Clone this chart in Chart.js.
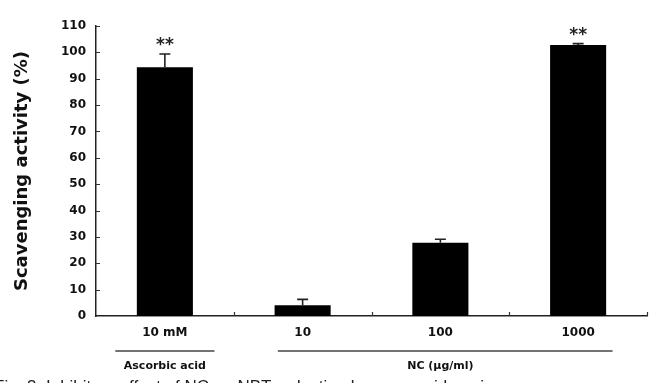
<!DOCTYPE html>
<html>
<head>
<meta charset="utf-8">
<script src="https://cdn.jsdelivr.net/npm/chart.js@4.4.1/dist/chart.umd.min.js"></script>
<style>
  html, body { margin: 0; padding: 0; background: #fff; }
  #wrap { width: 661px; height: 383px; }
</style>
</head>
<body>
<div id="wrap"><canvas id="chart" width="661" height="383"></canvas></div>
<script>
// data
const categories = ['10 mM', '10', '100', '1000'];
const scavenging = [94.4, 4.1, 27.8, 102.8];
const errUpper = [5.0, 2.2, 1.3, 0.5];
const stars = ['**', '', '', '**'];
const yMin = 0, yMax = 110, yStep = 10;

// groups under the x axis (category index ranges)
const groupNames = ['Ascorbic acid', 'NC (μg/ml)'];
const groupFirst = [0, 1];
const groupLast = [0, 3];

const ink = '#111';
const boldFont = '"DejaVu Sans", Verdana, sans-serif';

// error bars, stars, inward ticks, group lines and the cut caption
const decor = {
    id: 'decor',
    afterDraw(chart) {
        const ctx = chart.ctx;
        const x = chart.scales.x;
        const y = chart.scales.y;
        const area = chart.chartArea;
        ctx.save();

        // inward ticks
        ctx.strokeStyle = '#333';
        ctx.lineWidth = 1.2;
        ctx.beginPath();
        for (let v = yMin + yStep; v <= yMax; v += yStep) {
            const py = Math.round(y.getPixelForValue(v)) + 0.5;
            ctx.moveTo(area.left, py);
            ctx.lineTo(area.left + 4, py);
        }
        for (let i = 0; i < categories.length; i++) {
            const px = Math.round(x.getPixelForValue(i + 0.5)) + 0.5;
            ctx.moveTo(px, area.bottom);
            ctx.lineTo(px, area.bottom - 4);
        }
        ctx.stroke();

        // upper error whiskers
        ctx.strokeStyle = '#222';
        ctx.lineWidth = 1.6;
        scavenging.forEach((v, i) => {
            const cx = x.getPixelForValue(i);
            const top = y.getPixelForValue(v + errUpper[i]);
            const base = y.getPixelForValue(v);
            ctx.beginPath();
            ctx.moveTo(cx, base);
            ctx.lineTo(cx, top);
            ctx.moveTo(cx - 5.5, top);
            ctx.lineTo(cx + 5.5, top);
            ctx.stroke();
        });

        // significance stars
        ctx.fillStyle = '#222';
        ctx.font = 'bold 17px ' + boldFont;
        ctx.textAlign = 'center';
        ctx.textBaseline = 'alphabetic';
        stars.forEach((s, i) => {
            if (!s) return;
            const top = y.getPixelForValue(scavenging[i] + errUpper[i]);
            ctx.fillText(s, x.getPixelForValue(i), top - 4);
        });

        // group lines and names
        const overhang = [[0.36, 0.36], [0.18, 0.25]];
        const lineY = 351;
        ctx.strokeStyle = '#444';
        ctx.lineWidth = 1.6;
        ctx.fillStyle = ink;
        ctx.font = 'bold 11px ' + boldFont;
        ctx.textBaseline = 'middle';
        groupNames.forEach((name, g) => {
            const x0 = x.getPixelForValue(groupFirst[g] - overhang[g][0]);
            const x1 = x.getPixelForValue(groupLast[g] + overhang[g][1]);
            ctx.beginPath();
            ctx.moveTo(x0, lineY);
            ctx.lineTo(x1, lineY);
            ctx.stroke();
            const mid = x.getPixelForValue((groupFirst[g] + groupLast[g]) / 2);
            ctx.fillText(name, mid, 366);
        });

        // figure caption, cut by the bottom edge as in the scan
        ctx.font = '17px "Liberation Sans", Arial, sans-serif';
        ctx.textAlign = 'left';
        ctx.textBaseline = 'alphabetic';
        ctx.fillStyle = '#222';
        ctx.fillText('Fig. 3. Inhibitory effect of NC on NBT reduction by superoxide anion.', -6, 392);

        ctx.restore();
    }
};

new Chart(document.getElementById('chart'), {
    type: 'bar',
    data: {
        labels: categories,
        datasets: [{
            label: 'Scavenging activity (%)',
            data: scavenging,
            backgroundColor: '#000',
            borderWidth: 0,
            categoryPercentage: 1.0,
            barPercentage: 0.407
        }]
    },
    options: {
        responsive: false,
        animation: false,
        layout: {
            padding: { left: 0, right: 14, top: 26, bottom: 0 }
        },
        plugins: {
            legend: { display: false },
            tooltip: { enabled: false }
        },
        scales: {
            x: {
                grid: { display: false, drawTicks: false },
                border: { display: true, color: '#222', width: 1.5 },
                ticks: {
                    color: ink,
                    padding: 10,
                    font: { family: boldFont, size: 12, weight: 'bold' }
                },
                afterFit(scale) { scale.height = 67; }
            },
            y: {
                min: yMin,
                max: yMax,
                grid: { display: false, drawTicks: false },
                border: { display: true, color: '#222', width: 1.5 },
                ticks: {
                    stepSize: yStep,
                    color: ink,
                    padding: 10,
                    font: { family: boldFont, size: 12, weight: 'bold' }
                },
                title: {
                    display: true,
                    text: 'Scavenging activity (%)',
                    color: ink,
                    padding: { top: 12, bottom: 0 },
                    font: { family: boldFont, size: 18, weight: 'bold' }
                },
                afterFit(scale) { scale.width = 96; }
            }
        }
    },
    plugins: [decor]
});
</script>
</body>
</html>
